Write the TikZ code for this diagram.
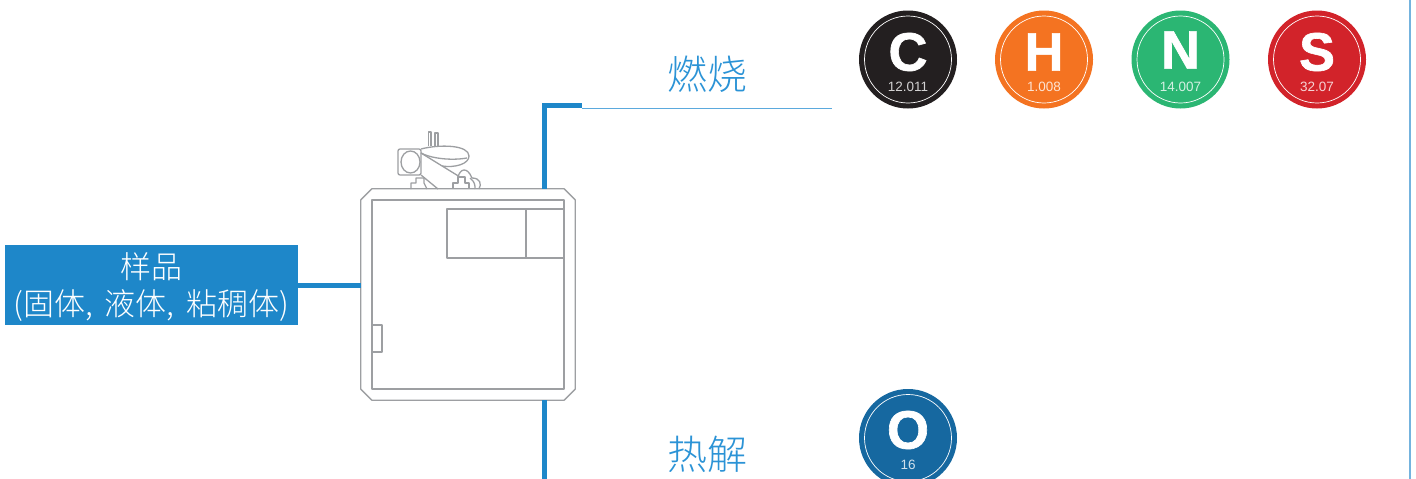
\documentclass[tikz,border=0pt]{standalone}
\usepackage{fontspec}
\setmainfont{Liberation Sans}
\newfontfamily\symbfont[BoldFeatures={FakeBold=1.2}]{Liberation Sans}
\newfontfamily\cjk{Noto Sans CJK SC Light}
\usetikzlibrary{positioning, calc}
\definecolor{flowblue}{HTML}{1E87C9}
\definecolor{labelblue}{HTML}{2B93D6}
\definecolor{thinblue}{HTML}{5BA9DD}
\definecolor{edgeblue}{HTML}{74B3DE}
\definecolor{housing}{HTML}{9D9FA2}
\definecolor{carbon}{HTML}{231F20}
\definecolor{hydrogen}{HTML}{F47321}
\definecolor{nitrogen}{HTML}{2BB673}
\definecolor{sulfur}{HTML}{D2232A}
\definecolor{oxygen}{HTML}{1668A0}
\tikzset{
  elem/.style={circle, inner sep=0pt, minimum size=98pt},
  ring/.style={circle, draw=white, line width=0.7pt, inner sep=0pt, minimum size=87pt},
  symb/.style={inner sep=0pt, text=white, font=\fontsize{54}{54}\selectfont\symbfont\bfseries},
  mass/.style={inner sep=0pt, text=white, opacity=0.8, font=\fontsize{13.5}{14}\selectfont},
  flow/.style={flowblue, line width=5pt},
  part/.style={housing, line width=1.3pt, line join=round},
  routelabel/.style={inner sep=0pt, text=labelblue, font=\fontsize{40}{40}\selectfont\cjk},
  sampletext/.style={inner sep=0pt, text=white, font=\fontsize{31}{31}\selectfont\cjk}
}
\begin{document}
\begin{tikzpicture}[x=1pt, y=-1pt]
      \clip (0, 0) rectangle (1416, 479);
      \fill[white] (0, 0) rectangle (1416, 479);
      \draw[edgeblue, line width=2pt] (1410, 0) -- (1410, 479);

      % analyser housing
      \node[inner sep=0pt, minimum width=214pt, minimum height=211pt] (box) at (468, 294.5) {};
      \draw[part, fill=white] ($(box.north west)+(11, 0)$) -- ($(box.north east)+(-11, 0)$) -- ($(box.north east)+(0, 11)$) -- ($(box.south east)+(0, -11)$) -- ($(box.south east)+(-11, 0)$) -- ($(box.south west)+(11, 0)$) -- ($(box.south west)+(0, -11)$) -- ($(box.north west)+(0, 11)$) -- cycle;
      \node[part, draw, inner sep=0pt, minimum width=192pt, minimum height=189pt] (cavity) at (468, 294.5) {};
      \node[part, draw, inner sep=0pt, minimum width=79pt, minimum height=49pt] (furnace) at (486.5, 233.5) {};
      \node[part, draw, inner sep=0pt, minimum width=38pt, minimum height=49pt] (chamber) at (545, 233.5) {};
      \node[part, draw, inner sep=0pt, minimum width=10pt, minimum height=27pt] (door) at (377, 338.5) {};

      % autosampler on top
      \draw[part] (428.5, 146) -- (428.5, 132) -- (431, 132) -- (431, 146);
      \draw[part] (435, 146) -- (435, 133) -- (438, 133) -- (438, 146);
      \draw[part] (421, 149) .. controls (440, 144) and (469, 145) .. (469, 156) .. controls (469, 164) and (455, 168) .. (442, 166);
      \draw[part] (421, 153) .. controls (430, 158) and (450, 161) .. (467, 158);
      \draw[part] (421, 153) -- (460, 177);
      \draw[part] (421, 175) -- (438, 189);
      \draw[part, rounded corners=2pt] (398, 149) rectangle (421, 175);
      \draw[part] (410.5, 162) ellipse (9.5 and 11);
      \draw[part] (411, 189) -- (411, 183) -- (416, 183) -- (416, 178) -- (424, 178) -- (424, 183) -- (427, 189);
      \draw[part] (453, 189) -- (453, 183) -- (458, 183) -- (458, 177) -- (465, 177) -- (465, 183) -- (469, 183) -- (469, 189);
      \draw[part] (458, 177) .. controls (460, 169) and (467, 166) .. (472, 178) .. controls (480, 178) and (482, 184) .. (479, 189);
      \draw[part] (470, 178) .. controls (475, 182) and (475, 185) .. (475, 189);

      % sample input
      \node[fill=flowblue, inner sep=0pt, minimum width=293.5pt, minimum height=80pt] (sample) at (151.25, 285) {};
      \node[sampletext] (sampletop) at (151, 267) {样品};
      \node[sampletext] (samplesub) at (151.5, 306) {(固体,\, 液体,\, 粘稠体)};
      \draw[flow] (sample.east) -- (sample.east -| box.west);

      % routes
      \coordinate (upcorner) at (544, 105.5);
      \coordinate (upknee) at (582, 105.5);
      \coordinate (burnend) at (832, 108);
      \coordinate (pyroend) at (544, 479);
      \draw[flow, line join=miter] (box.north -| upcorner) -- (upcorner) -- (upknee);
      \draw[thinblue, line width=1pt] (upknee |- burnend) -- (burnend);
      \draw[flow] (box.south -| pyroend) -- (pyroend);
      \node[routelabel] (burn) at (707.5, 74.5) {燃烧};
      \node[routelabel] (pyro) at (707.5, 454) {热解};

      % elements
      \node[elem, fill=carbon] (c) at (908, 59.5) {};
      \node[ring] (cring) at (c) {};
      \node[symb] (csymb) at (908, 52) {C};
      \node[mass] (cmass) at (908, 87) {12.011};

      \node[elem, fill=hydrogen] (h) at (1044, 59.5) {};
      \node[ring] (hring) at (h) {};
      \node[symb] (hsymb) at (1044, 52) {H};
      \node[mass] (hmass) at (1044, 87) {1.008};

      \node[elem, fill=nitrogen] (n) at (1180.5, 59.5) {};
      \node[ring] (nring) at (n) {};
      \node[symb] (nsymb) at (1180.5, 50) {N};
      \node[mass] (nmass) at (1180.5, 87) {14.007};

      \node[elem, fill=sulfur] (s) at (1317, 59.5) {};
      \node[ring] (sring) at (s) {};
      \node[symb] (ssymb) at (1317, 52) {S};
      \node[mass] (smass) at (1317, 87) {32.07};

      \node[elem, fill=oxygen] (o) at (908, 438) {};
      \node[ring] (oring) at (o) {};
      \node[symb] (osymb) at (908, 430) {O};
      \node[mass] (omass) at (908, 465) {16};
    \end{tikzpicture}
\end{document}
